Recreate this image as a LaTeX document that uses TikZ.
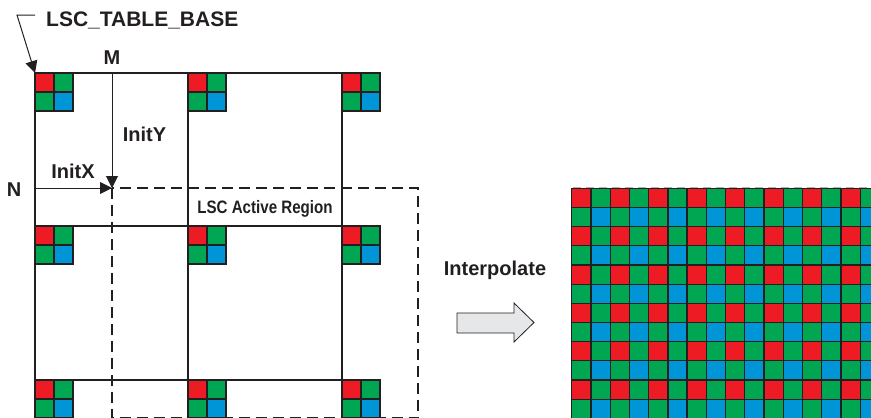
\documentclass[tikz,border=0pt]{standalone}
\usepackage{fontspec}
\setmainfont{Liberation Sans}
\newfontfamily\estrecha[FakeStretch=0.84]{Liberation Sans}
\usetikzlibrary{arrows.meta, positioning}
\definecolor{rojo}{HTML}{ED1C24}
\definecolor{verde}{HTML}{00A651}
\definecolor{azul}{HTML}{0095D6}
\definecolor{linea}{HTML}{231F20}
\definecolor{gris}{HTML}{E6E7E8}
\colorlet{px0}{rojo}
\colorlet{px1}{verde}
\colorlet{px2}{verde}
\colorlet{px3}{azul}

\begin{document}
\begin{tikzpicture}[x=1pt, y=-1pt,
      lbl/.style={font=\fontsize{20}{24}\selectfont\bfseries, inner sep=0pt, text=linea},
      rejilla/.style={draw=linea, line width=2.7pt},
      activa/.style={draw=linea, line width=2.4pt, dash pattern=on 11pt off 6pt},
      celda/.style={draw=linea, line width=1.3pt},
      tip/.style={-{Triangle[length=12pt, width=12pt]}, line width=1pt, draw=linea}]
    \useasboundingbox (0,0) rectangle (871,418);
    \clip (0,0) rectangle (871,418);

    % table grid
    \foreach \x in {35,188,342}
      \draw[rejilla] (\x,73) -- (\x,430);
    \foreach \y in {73,226,380}
      \draw[rejilla] (35,\y) -- (342,\y);

    % gain samples at the grid points
    \foreach \x in {35,188,342}
      \foreach \y in {73,226,380} {
        \filldraw[celda, fill=rojo] (\x,\y) rectangle ++(19,19);
        \filldraw[celda, fill=verde] (\x+19,\y) rectangle ++(19,19);
        \filldraw[celda, fill=verde] (\x,\y+19) rectangle ++(19,19);
        \filldraw[celda, fill=azul] (\x+19,\y+19) rectangle ++(19,19);
      }

    % active region
    \draw[activa] (112,188) rectangle (418,418.5);
    \node[lbl, font=\estrecha\fontsize{18}{22}\selectfont\bfseries, anchor=base] (act) at (265,213) {LSC Active Region};

    % offsets
    \coordinate (esq) at (35,73);
    \coordinate (tb0) at (35,15);
    \coordinate (mtop) at (112,73);
    \coordinate (nleft) at (35,188);
    \coordinate (orig) at (112,188);
    \node[lbl, font=\fontsize{21}{24}\selectfont\bfseries, anchor=base west] (base) at (46,26) {LSC\_TABLE\_BASE};
    \node[lbl, anchor=base] (m) at (112,64) {M};
    \node[lbl, anchor=base] (n) at (14,196) {N};
    \node[lbl, anchor=base] (inity) at (144.5,141) {InitY};
    \node[lbl, anchor=base] (initx) at (73,178) {InitX};
    \draw[tip] (tb0) -- ++(-18,0) -- (esq);
    \draw[tip] (mtop) -- (orig);
    \draw[tip] (nleft) -- (orig);

    % interpolation
    \node[lbl, anchor=base] (interp) at (495,275) {Interpolate};
    \filldraw[draw=linea, fill=gris, line width=0.8pt]
      (457,313) -- (514,313) -- (514,303) -- (534,322.5) -- (514,342) -- (514,333) -- (457,333) -- cycle;

    % full bayer field
    \draw[draw=gray!60, line width=2pt, dash pattern=on 8pt off 5pt] (571.5,188.3) rectangle (900,430);
    \foreach \i in {0,...,15}
      \foreach \j in {0,...,11} {
        \pgfmathtruncatemacro\k{mod(\i,2)+2*mod(\j,2)}
        \filldraw[celda, fill=px\k] (571.7+19.23*\i,188.3+19.17*\j) rectangle ++(19.23,19.17);
      }
  \end{tikzpicture}
\end{document}
